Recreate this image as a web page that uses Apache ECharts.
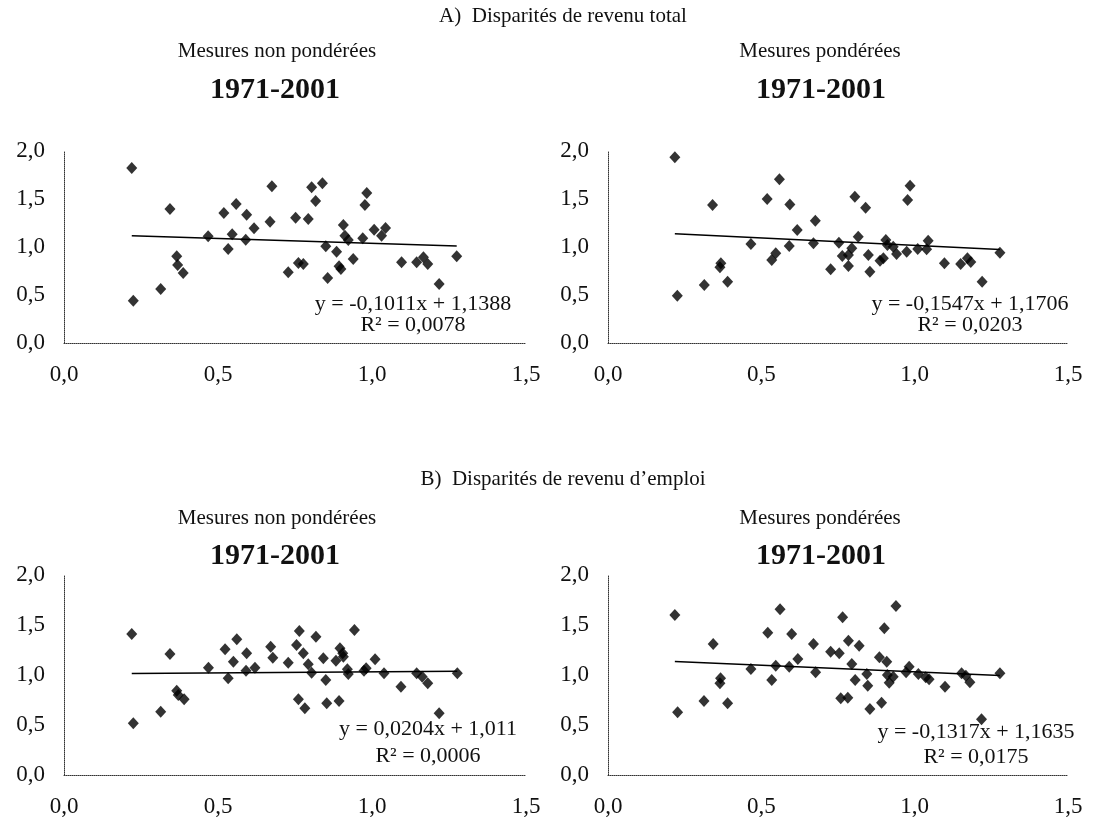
<!DOCTYPE html>
<html>
<head>
<meta charset="utf-8">
<script src="https://cdn.jsdelivr.net/npm/echarts@6/dist/echarts.min.js"></script>
<style>
html,body{margin:0;padding:0;background:#fff;}
#chart{width:1094px;height:825px;}
</style>
</head>
<body>
<div id="chart"></div>
<script>
// ---- data ----
const sectionTitles = ['A)  Disparités de revenu total', 'B)  Disparités de revenu d\u2019emploi'];
const panelTitles = ['Mesures non pondérées', 'Mesures pondérées'];
const periodLabel = '1971-2001';
const xTickLabels = ['0,0', '0,5', '1,0', '1,5'];
const yTickLabels = ['0,0', '0,5', '1,0', '1,5', '2,0'];

const aLeftX = [0.220,0.225,0.314,0.344,0.366,0.369,0.387,0.468,0.519,0.533,0.546,0.559,0.590,0.593,0.617,0.669,0.675,0.728,0.752,0.761,0.777,0.793,0.804,0.817,0.839,0.850,0.856,0.885,0.893,0.899,0.907,0.912,0.923,0.939,0.970,0.977,0.983,1.007,1.031,1.044,1.096,1.145,1.167,1.181,1.218,1.275];
const aLeftY = [1.823,0.441,0.563,1.396,0.903,0.813,0.729,1.111,1.354,0.979,1.132,1.448,1.076,1.336,1.195,1.264,1.632,0.736,1.305,0.833,0.823,1.292,1.622,1.479,1.664,1.007,0.677,0.951,0.799,0.771,1.229,1.118,1.073,0.875,1.091,1.438,1.563,1.180,1.118,1.198,0.841,0.841,0.893,0.823,0.615,0.903];

const aRightX = [0.218,0.226,0.314,0.341,0.365,0.368,0.390,0.466,0.519,0.534,0.547,0.559,0.591,0.593,0.617,0.670,0.676,0.726,0.753,0.764,0.784,0.784,0.795,0.805,0.816,0.840,0.849,0.854,0.887,0.898,0.906,0.911,0.930,0.941,0.974,0.977,0.985,1.010,1.039,1.044,1.097,1.150,1.172,1.183,1.220,1.278];
const aRightY = [1.934,0.493,0.604,1.438,0.789,0.830,0.639,1.031,1.500,0.865,0.934,1.705,1.010,1.444,1.177,1.038,1.274,0.767,1.045,0.906,0.917,0.802,0.986,1.524,1.107,1.409,0.917,0.743,0.857,0.882,1.073,1.021,1.003,0.927,0.951,1.490,1.639,0.979,0.976,1.066,0.830,0.823,0.882,0.844,0.639,0.941];

const bLeftX = [0.220,0.225,0.314,0.344,0.366,0.371,0.390,0.469,0.523,0.533,0.550,0.561,0.591,0.593,0.620,0.671,0.678,0.728,0.755,0.761,0.764,0.777,0.782,0.793,0.804,0.818,0.842,0.850,0.853,0.883,0.893,0.896,0.905,0.907,0.920,0.923,0.943,0.974,0.981,1.010,1.039,1.094,1.145,1.163,1.181,1.218,1.277];
const bLeftY = [1.41,0.517,0.633,1.21,0.843,0.80,0.757,1.073,1.257,0.967,1.133,1.357,1.043,1.217,1.073,1.283,1.173,1.123,1.30,0.757,1.44,1.217,0.667,1.107,1.023,1.383,1.167,0.95,0.717,1.143,0.74,1.267,1.217,1.183,1.057,1.01,1.45,1.043,1.067,1.157,1.017,0.883,1.017,0.983,0.917,0.617,1.017];

const bRightX = [0.218,0.227,0.313,0.343,0.365,0.367,0.390,0.466,0.521,0.534,0.547,0.561,0.591,0.599,0.619,0.670,0.677,0.726,0.754,0.759,0.765,0.782,0.784,0.795,0.806,0.819,0.844,0.847,0.854,0.885,0.892,0.901,0.909,0.911,0.917,0.930,0.939,0.972,0.982,1.012,1.036,1.047,1.099,1.153,1.167,1.180,1.218,1.278];
const bRightY = [1.60,0.627,0.74,1.31,0.917,0.967,0.717,1.06,1.423,0.95,1.093,1.657,1.083,1.41,1.16,1.31,1.027,1.233,1.217,0.767,1.577,0.773,1.343,1.11,0.95,1.293,1.01,0.893,0.66,1.177,0.723,1.467,1.133,1.0,0.923,0.983,1.69,1.027,1.083,1.01,0.977,0.957,0.883,1.017,0.993,0.927,0.557,1.017];

const slopes = [-0.1011, -0.1547, 0.0204, -0.1317];
const intercepts = [1.1388, 1.1706, 1.011, 1.1635];
const eqTexts = ['y = -0,1011x + 1,1388', 'y = -0,1547x + 1,1706', 'y = 0,0204x + 1,011', 'y = -0,1317x + 1,1635'];
const r2Texts = ['R² = 0,0078', 'R² = 0,0203', 'R² = 0,0006', 'R² = 0,0175'];

// ---- layout ----
const FONT = '"Liberation Serif", "DejaVu Serif", serif';
const panels = [
  {xs: aLeftX,  ys: aLeftY,  left: 64,  top: 151, width: 462, height: 192, eqX: 413, eqY: 304, r2X: 413, r2Y: 325},
  {xs: aRightX, ys: aRightY, left: 608, top: 151, width: 460, height: 192, eqX: 970, eqY: 304, r2X: 970, r2Y: 325},
  {xs: bLeftX,  ys: bLeftY,  left: 64,  top: 575, width: 462, height: 200, eqX: 428, eqY: 729, r2X: 428, r2Y: 756},
  {xs: bRightX, ys: bRightY, left: 608, top: 575, width: 460, height: 200, eqX: 976, eqY: 732, r2X: 976, r2Y: 757}
];

const grid = [], xAxis = [], yAxis = [], series = [];
const axisLine = {show: true, lineStyle: {color: '#333', width: 1, type: 'dotted'}};
panels.forEach((p, i) => {
  grid.push({left: p.left, top: p.top, width: p.width, height: p.height, containLabel: false});
  xAxis.push({
    type: 'value', gridIndex: i, min: 0, max: 1.5, interval: 0.5,
    axisLine: axisLine, axisTick: {show: false}, splitLine: {show: false},
    axisLabel: {margin: 20, color: '#111', fontFamily: FONT, fontSize: 23,
      formatter: v => xTickLabels[Math.round(v / 0.5)]}
  });
  yAxis.push({
    type: 'value', gridIndex: i, min: 0, max: 2, interval: 0.5,
    axisLine: axisLine, axisTick: {show: false}, splitLine: {show: false},
    axisLabel: {margin: 19, color: '#111', fontFamily: FONT, fontSize: 23,
      formatter: v => yTickLabels[Math.round(v / 0.5)]}
  });
  series.push({
    type: 'scatter', xAxisIndex: i, yAxisIndex: i,
    data: p.xs.map((x, k) => [x, p.ys[k]]),
    symbol: 'diamond', symbolSize: [11, 12],
    itemStyle: {color: '#000'}, silent: true
  });
  const x0 = Math.min(...p.xs), x1 = Math.max(...p.xs);
  series.push({
    type: 'line', xAxisIndex: i, yAxisIndex: i, silent: true,
    data: [[x0, intercepts[i] + slopes[i] * x0], [x1, intercepts[i] + slopes[i] * x1]],
    symbol: 'none', lineStyle: {color: '#000', width: 1.5}, z: 1
  });
});

const graphic = [];
function txt(x, y, s, size, bold) {
  graphic.push({type: 'text', x: x, y: y, style: {
    text: s, fill: '#111', font: (bold ? 'bold ' : '') + size + 'px ' + FONT,
    textAlign: 'center', textVerticalAlign: 'middle'}});
}
txt(563, 16, sectionTitles[0], 21);
txt(277, 51, panelTitles[0], 21);
txt(820, 51, panelTitles[1], 21);
txt(275, 90, periodLabel, 30, true);
txt(821, 90, periodLabel, 30, true);
txt(563, 479, sectionTitles[1], 21);
txt(277, 518, panelTitles[0], 21);
txt(820, 518, panelTitles[1], 21);
txt(275, 556, periodLabel, 30, true);
txt(821, 556, periodLabel, 30, true);
panels.forEach((p, i) => {
  txt(p.eqX, p.eqY, eqTexts[i], 22);
  txt(p.r2X, p.r2Y, r2Texts[i], 22);
});

const chart = echarts.init(document.getElementById('chart'), null, {renderer: 'canvas'});
chart.setOption({
  animation: false,
  backgroundColor: '#fff',
  grid, xAxis, yAxis, series, graphic
});
</script>
</body>
</html>
